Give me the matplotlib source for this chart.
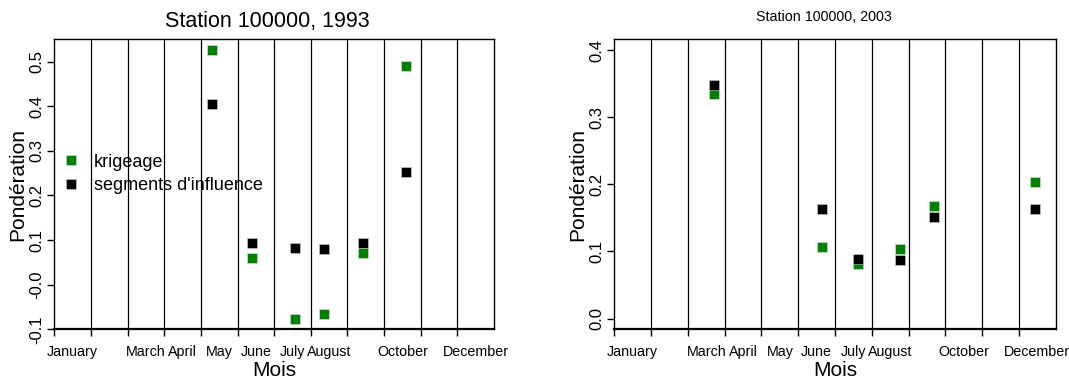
import matplotlib.pyplot as plt

plt.rcParams['font.family'] = ['Liberation Sans', 'DejaVu Sans']

# month labels (R drops the ones that overlap)
month_labels = ["January", "", "March", "April", "May", "June", "July",
                "August", "", "October", "", "December"]

# 1993 : position in months since Jan 1
x_1993 = [4.31, 5.40, 6.56, 7.35, 8.43, 9.59]
krig_1993 = [0.526, 0.059, -0.076, -0.065, 0.072, 0.490]
seg_1993 = [0.404, 0.094, 0.083, 0.079, 0.093, 0.252]

# 2003
x_2003 = [2.71, 5.66, 6.63, 7.78, 8.70, 11.44]
krig_2003 = [0.335, 0.106, 0.082, 0.104, 0.167, 0.203]
seg_2003 = [0.348, 0.163, 0.088, 0.0865, 0.151, 0.163]

green = "#008000"

fig = plt.figure(figsize=(10.69, 3.79), dpi=100)
ax1 = fig.add_axes([54.3 / 1069, 1 - 329.3 / 379, 439.7 / 1069, 290 / 379])
ax2 = fig.add_axes([614.3 / 1069, 1 - 329.3 / 379, 441.4 / 1069, 290 / 379])


def style(ax, ylim, yticks, ylabels):
    ax.set_xlim(0, 12)
    ax.set_ylim(*ylim)
    for m in range(1, 12):
        ax.axvline(m, color="black", lw=0.9, zorder=1)
    ax.set_xticks(range(12))
    ax.set_xticklabels([])
    ax.set_xticks([m + 0.5 for m in range(12)], minor=True)
    ax.set_xticklabels(month_labels, minor=True, fontsize=10.3)
    ax.tick_params(axis="x", which="major", length=5, width=1, direction="out")
    ax.tick_params(axis="x", which="minor", length=0, pad=11)
    ax.set_yticks(yticks)
    ax.set_yticklabels(ylabels, fontsize=12, rotation=90, va="center")
    ax.tick_params(axis="y", length=5, width=1, pad=2)
    for s in ax.spines.values():
        s.set_linewidth(1)
    ax.spines["bottom"].set_linewidth(1.6)
    ax.set_xlabel("Mois", fontsize=15, labelpad=2)
    ax.set_ylabel("Pondération", fontsize=15, labelpad=2)


style(ax1, (-0.1, 0.55), [-0.1, 0.0, 0.1, 0.2, 0.3, 0.4, 0.5],
      ["-0.1", "-0.0", "0.1", "0.2", "0.3", "0.4", "0.5"])
style(ax2, (-0.016, 0.416), [0.0, 0.1, 0.2, 0.3, 0.4],
      ["0.0", "0.1", "0.2", "0.3", "0.4"])

ax1.plot(x_1993, krig_1993, "s", color=green, ms=7.4, mec="#d8e8d8", mew=0.4,
         ls="none", zorder=3, label="krigeage")
ax1.plot(x_1993, seg_1993, "s", color="black", ms=7.4, mec="#d0d0d0", mew=0.4,
         ls="none", zorder=3, label="segments d'influence")
ax2.plot(x_2003, krig_2003, "s", color=green, ms=7.4, mec="#d8e8d8", mew=0.4,
         ls="none", zorder=3)
ax2.plot(x_2003, seg_2003, "s", color="black", ms=7.4, mec="#d0d0d0", mew=0.4,
         ls="none", zorder=3)

leg = ax1.legend(loc="upper left", bbox_to_anchor=(0.0, 0.643), frameon=False,
                 fontsize=13, handlelength=0.6, handletextpad=1.0,
                 labelspacing=0.35, markerscale=1.0, borderaxespad=0.2)

fig.text(267 / 1069, 1 - 22 / 379, "Station 100000, 1993", fontsize=15.5,
         ha="center", va="center")
fig.text(824 / 1069, 1 - 17 / 379, "Station 100000, 2003", fontsize=10.3,
         ha="center", va="center")

fig.savefig("out.png", dpi=100)
